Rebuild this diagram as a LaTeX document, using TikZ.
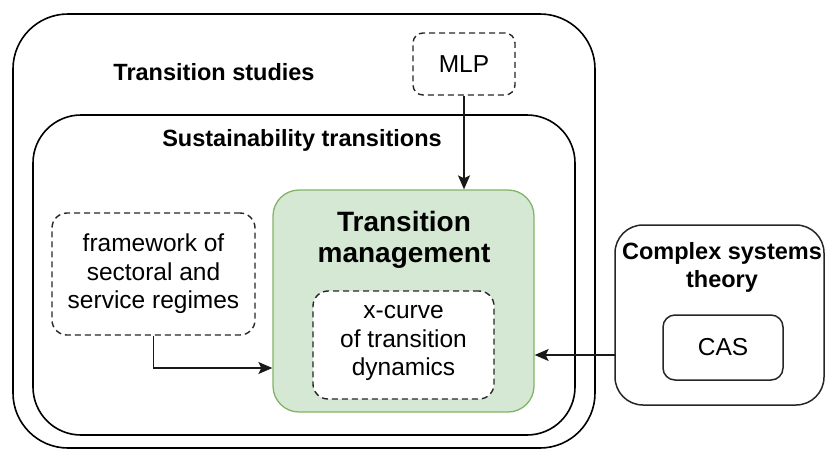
\documentclass[tikz,border=0pt]{standalone}
\usepackage{fontspec}
\setmainfont{Liberation Sans}
\usetikzlibrary{arrows.meta}

\definecolor{tmfill}{HTML}{D5E8D4}
\definecolor{tmline}{HTML}{82B366}

\tikzset{
  frame/.style={draw=black, line width=1.6pt, fill=none, inner sep=0pt},
  dashbox/.style={draw=black!85, line width=1.4pt, dash pattern=on 6pt off 4pt, fill=white, inner sep=0pt},
  plainbox/.style={draw=black!85, line width=1.5pt, fill=white, inner sep=0pt},
  greenbox/.style={draw=tmline, line width=1.3pt, fill=tmfill, inner sep=0pt},
  boldlabel/.style={font=\fontsize{23.5}{28.5}\selectfont\bfseries, align=center, inner sep=0pt},
  biglabel/.style={font=\fontsize{28}{31}\selectfont\bfseries, align=center, inner sep=0pt},
  bodytext/.style={font=\fontsize{24.5}{28.5}\selectfont, align=center},
  arr/.style={draw=black!90, line width=1.5pt, -{Stealth[length=14pt, width=12pt, inset=3pt]}}
}

\begin{document}
\begin{tikzpicture}[x=1pt, y=-1pt]
  \useasboundingbox (0,0) rectangle (826,450);

  % nested fields of study
  \node[frame, rounded corners=55pt, minimum width=582pt, minimum height=434pt] (ts) at (304,231) {};
  \node[boldlabel] (tslabel) at (214,72) {Transition studies};
  \node[frame, rounded corners=48pt, minimum width=542pt, minimum height=320pt] (st) at (304,275) {};
  \node[boldlabel] (stlabel) at (302,140) {Sustainability transitions};

  % multi-level perspective
  \node[dashbox, rounded corners=10pt, minimum width=102pt, minimum height=62pt, bodytext] (mlp) at (464,64) {MLP};

  % transition management core
  \node[greenbox, rounded corners=26pt, minimum width=261pt, minimum height=222pt] (tm) at (403.5,301) {};
  \node[biglabel] (tmlabel) at (404,239.5) {Transition\\management};
  \node[dashbox, rounded corners=15pt, minimum width=181pt, minimum height=108pt] (xc) at (403.5,345) {};
  \node[bodytext, inner sep=0pt] (xctext) at (403.5,343) {x-curve\\of transition\\dynamics};

  % sectoral and service regimes
  \node[dashbox, rounded corners=15pt, minimum width=203pt, minimum height=122pt] (fw) at (153.5,274) {};
  \node[bodytext, inner sep=0pt] (fwtext) at (153.5,274) {framework of\\sectoral and\\service regimes};

  % complex systems theory
  \node[plainbox, rounded corners=28pt, minimum width=209pt, minimum height=180pt] (cst) at (719.5,315) {};
  \node[boldlabel] (cstlabel) at (722,267.5) {Complex systems\\theory};
  \node[plainbox, rounded corners=12pt, minimum width=120pt, minimum height=65pt, bodytext] (cas) at (723,347.5) {CAS};

  % connectors
  \coordinate (fwbend) at (153.5,368);
  \coordinate (cstout) at (615,355);
  \draw[arr] (mlp.south) -- (mlp.south |- tm.north);
  \draw[arr] (fw.south) -- (fwbend) -- (fwbend -| tm.west);
  \draw[arr] (cstout) -- (cstout -| tm.east);
\end{tikzpicture}
\end{document}
